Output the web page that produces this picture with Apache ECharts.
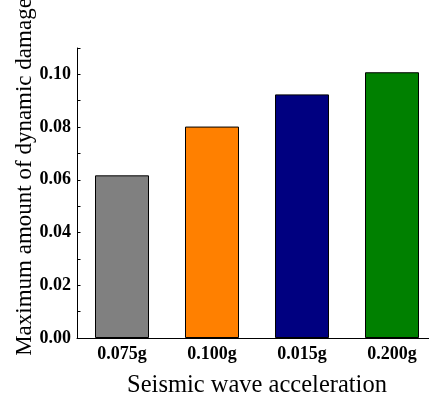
<!DOCTYPE html>
<html><head><meta charset="utf-8">
<script src="https://cdn.jsdelivr.net/npm/echarts@6/dist/echarts.min.js"></script>
<style>html,body{margin:0;padding:0;background:#fff}#c{width:429px;height:402px}</style>
</head><body><div id="c"></div>
<script>
const categories = ['0.075g', '0.100g', '0.015g', '0.200g'];
const damageValues = [0.0617, 0.0802, 0.0924, 0.1008];
const barColors = ['#808080', '#FF8000', '#000080', '#008000'];
const xTitle = 'Seismic wave acceleration';
const yTitle = 'Maximum amount of dynamic damage';
const FONT = '"Times New Roman", "Liberation Serif", serif';

const chart = echarts.init(document.getElementById('c'), null, {renderer: 'canvas'});
chart.setOption({
  animation: false,
  backgroundColor: '#fff',
  grid: {left: 77, top: 48, width: 360, height: 290, containLabel: false, outerBoundsMode: 'none'},
  xAxis: {
    type: 'category',
    data: categories,
    axisLine: {lineStyle: {color: '#000', width: 1}},
    axisTick: {show: false},
    axisLabel: {color: '#000', fontFamily: FONT, fontWeight: 'bold', fontSize: 18, margin: 7},
    name: xTitle,
    nameLocation: 'middle',
    nameGap: 35,
    nameTextStyle: {color: '#000', fontFamily: FONT, fontSize: 24.5}
  },
  yAxis: {
    type: 'value',
    min: 0, max: 0.11, interval: 0.01,
    axisLine: {show: true, lineStyle: {color: '#000', width: 1}},
    axisTick: {show: true, inside: true, length: 3.5, lineStyle: {color: '#000'}},
    splitLine: {show: false},
    axisLabel: {
      color: '#000', fontFamily: FONT, fontWeight: 'bold', fontSize: 18, margin: 6,
      formatter: v => (Math.round(v * 100) % 2 === 0 && v < 0.105) ? v.toFixed(2) : ''
    }
  },
  graphic: [{
    type: 'text',
    x: 25, y: 177,
    rotation: Math.PI / 2,
    style: {text: yTitle, fill: '#000', font: '23px ' + FONT, align: 'center', verticalAlign: 'middle'}
  }],
  series: [{
    type: 'bar',
    data: damageValues.map((v, i) => ({value: v, itemStyle: {color: barColors[i]}})),
    barWidth: '60%',
    itemStyle: {borderColor: '#000', borderWidth: 1}
  }]
});
</script></body></html>
